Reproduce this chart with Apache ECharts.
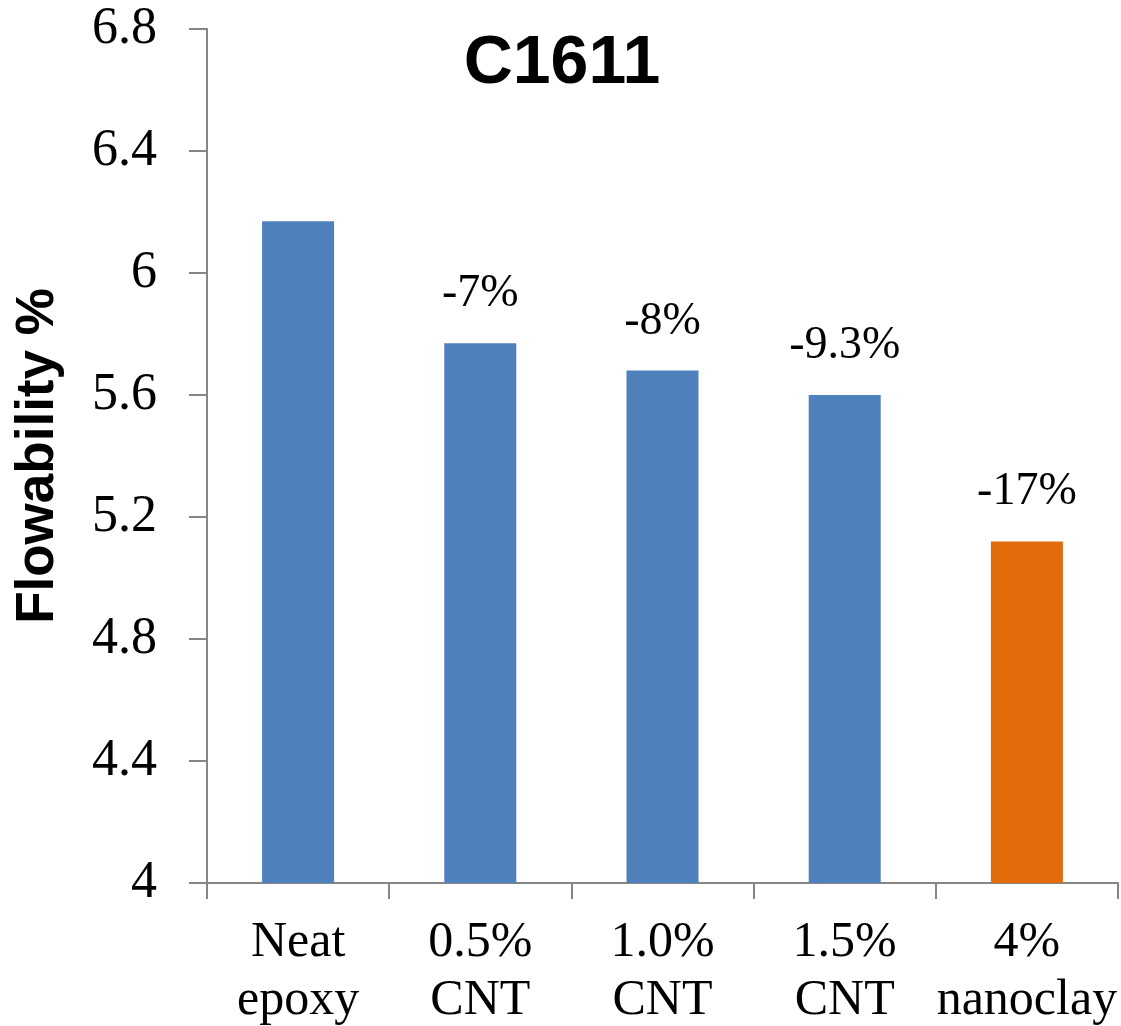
<!DOCTYPE html>
<html>
<head>
<meta charset="utf-8">
<script src="https://cdn.jsdelivr.net/npm/echarts@6/dist/echarts.min.js"></script>
<style>
html,body{margin:0;padding:0;background:#fff;}
#chart{width:1121px;height:1026px;}
</style>
</head>
<body>
<div id="chart"></div>
<script>
const chartTitle = "C1611";
const yAxisTitle = "Flowability %";
const categories = ["Neat\nepoxy", "0.5%\nCNT", "1.0%\nCNT", "1.5%\nCNT", "4%\nnanoclay"];
const values = [6.17, 5.77, 5.68, 5.60, 5.12];
const changeLabels = ["", "-7%", "-8%", "-9.3%", "-17%"];
const yTicks = ["4", "4.4", "4.8", "5.2", "5.6", "6", "6.4", "6.8"];

const BLUE = "#4F81BD";
const ORANGE = "#E36C0A";
const highlightIndex = categories.length - 1;

const chart = echarts.init(document.getElementById('chart'), null, {renderer: 'canvas'});
const serif = '"Liberation Serif", "Times New Roman", serif';
const sans = '"Liberation Sans", Arial, sans-serif';

chart.setOption({
  animation: false,
  backgroundColor: '#ffffff',
  title: {
    text: chartTitle,
    left: 557,
    textAlign: 'center',
    top: 25,
    textStyle: {fontFamily: sans, fontWeight: 'bold', fontSize: 68, color: '#000'}
  },
  grid: {left: 207, right: 3, top: 29, bottom: 143, containLabel: false, outerBoundsMode: 'none'},
  xAxis: {
    type: 'category',
    data: categories,
    axisLine: {show: true, lineStyle: {color: '#868686', width: 2}},
    axisTick: {show: true, length: 16, alignWithLabel: false, lineStyle: {color: '#868686', width: 2}},
    axisLabel: {
      color: '#000', fontFamily: serif, fontSize: 50, lineHeight: 58, margin: 31, interval: 0
    }
  },
  yAxis: {
    type: 'value',
    min: 4, max: 6.8, interval: 0.4,
    name: yAxisTitle,
    nameLocation: 'middle',
    nameGap: 142,
    nameRotate: 90,
    nameTextStyle: {fontFamily: sans, fontWeight: 'bold', fontSize: 53, color: '#000'},
    axisLine: {show: true, lineStyle: {color: '#868686', width: 2}},
    axisTick: {show: true, inside: false, length: 18, lineStyle: {color: '#868686', width: 2}},
    splitLine: {show: false},
    axisLabel: {
      color: '#000', fontFamily: serif, fontSize: 52, margin: 50,
      formatter: function (v) {
        const idx = Math.round((v - 4) / 0.4);
        return yTicks[idx] !== undefined ? yTicks[idx] : '';
      }
    }
  },
  series: [{
    type: 'bar',
    data: values.map(function (v, i) {
      return {
        value: v,
        itemStyle: {color: i === highlightIndex ? ORANGE : BLUE},
        label: {show: changeLabels[i] !== '', formatter: changeLabels[i]}
      };
    }),
    barWidth: 72,
    label: {
      show: true, position: 'top', distance: 26,
      fontFamily: serif, fontSize: 46, color: '#000'
    }
  }]
});
</script>
</body>
</html>
